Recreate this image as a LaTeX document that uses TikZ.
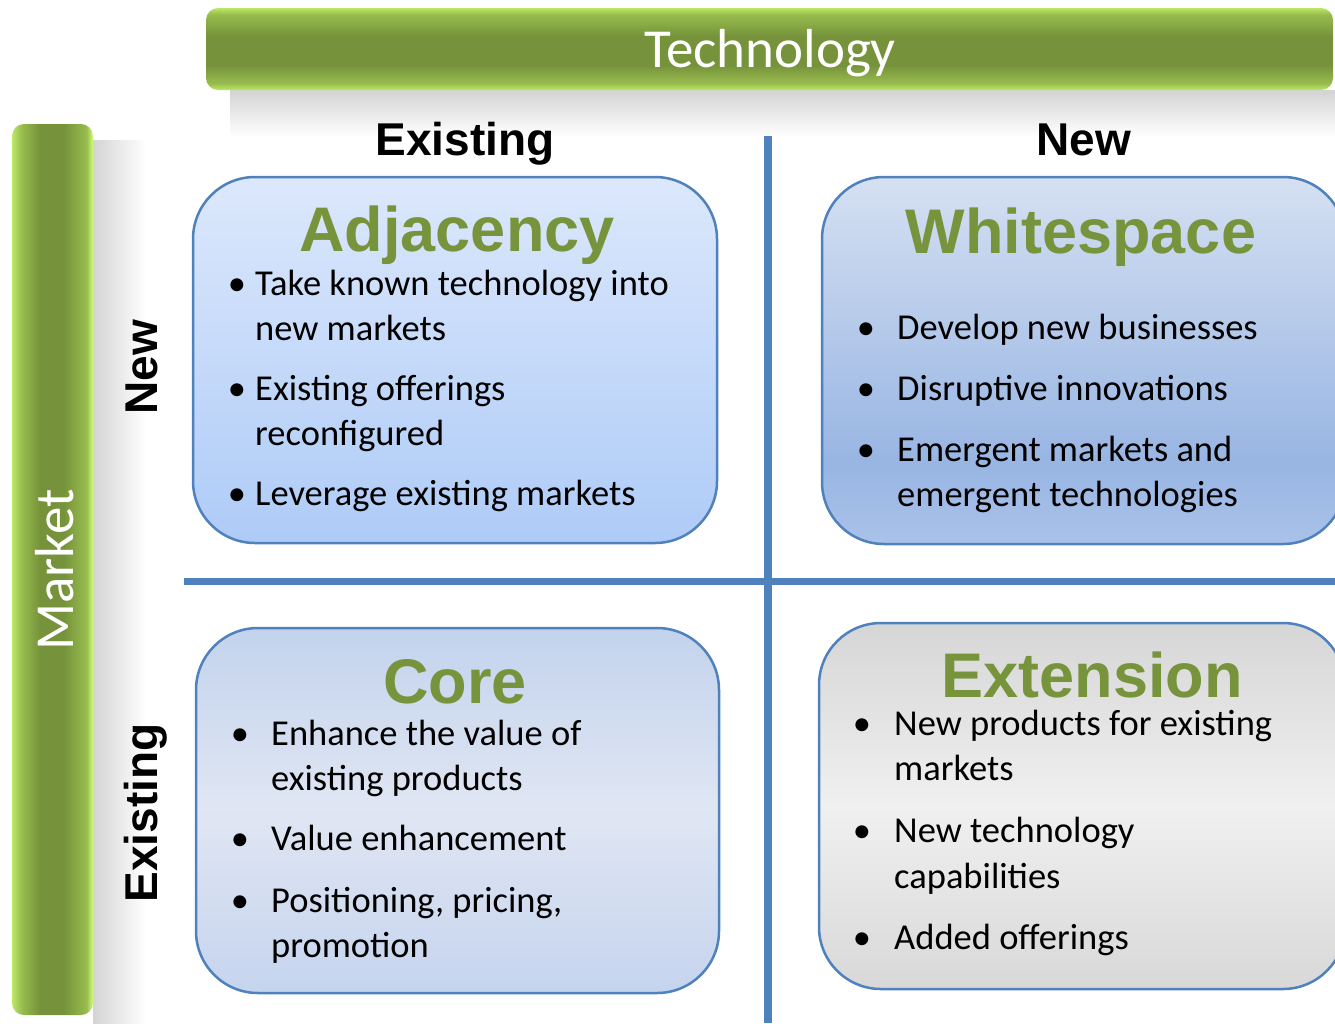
\documentclass[tikz,border=0pt]{standalone}
\usepackage{fontspec}
\setmainfont{Carlito}
\newfontfamily\headfont{Liberation Sans}
\definecolor{lineblue}{HTML}{4F81BD}
\definecolor{titlegreen}{HTML}{77933C}
\definecolor{bardark}{HTML}{76933B}
\definecolor{barmid}{HTML}{98BC4E}
\definecolor{barlight}{HTML}{BCE866}
\definecolor{barlightb}{HTML}{D3FF78}
\definecolor{adjtop}{HTML}{DCE8FC}
\definecolor{adjbot}{HTML}{AECBF7}
\definecolor{wstop}{HTML}{D5E0F2}
\definecolor{wsmid}{HTML}{98B5E3}
\definecolor{wsbot}{HTML}{AAC2E9}
\definecolor{cotop}{HTML}{C3D3ED}
\definecolor{comid}{HTML}{E0E6F3}
\definecolor{cobot}{HTML}{C5D4EE}
\definecolor{extop}{HTML}{D6D6D6}
\definecolor{exmid}{HTML}{F0F0F0}
\definecolor{exbot}{HTML}{D8D8D8}
\pgfdeclareverticalshading{barv}{100bp}{color(0bp)=(barlight); color(25bp)=(barlight); color(29bp)=(barmid); color(40bp)=(bardark); color(58bp)=(bardark); color(71bp)=(barmid); color(75bp)=(barlight); color(100bp)=(barlight)}
\pgfdeclarehorizontalshading{barh}{100bp}{color(0bp)=(barlight); color(25bp)=(barlight); color(31bp)=(barmid); color(42bp)=(bardark); color(57bp)=(bardark); color(71bp)=(barmid); color(75bp)=(barlightb); color(100bp)=(barlightb)}
\pgfdeclareverticalshading{adjsh}{100bp}{color(0bp)=(adjbot); color(25bp)=(adjbot); color(75bp)=(adjtop); color(100bp)=(adjtop)}
\pgfdeclareverticalshading{wssh}{100bp}{color(0bp)=(wsbot); color(25bp)=(wsbot); color(36bp)=(wsmid); color(75bp)=(wstop); color(100bp)=(wstop)}
\pgfdeclareverticalshading{cosh}{100bp}{color(0bp)=(cobot); color(25bp)=(cobot); color(50bp)=(comid); color(75bp)=(cotop); color(100bp)=(cotop)}
\pgfdeclareverticalshading{exsh}{100bp}{color(0bp)=(exbot); color(25bp)=(exbot); color(50bp)=(exmid); color(75bp)=(extop); color(100bp)=(extop)}
\tikzset{
  quadbox/.style={draw=lineblue, line width=2.5pt, rounded corners=62pt, inner sep=0pt, shade},
  greenbar/.style={rounded corners=12pt, inner sep=0pt, shade},
  divider/.style={draw=lineblue, line width=7.5pt},
  boxtitle/.style={font=\headfont\bfseries\fontsize{63}{70}\selectfont, text=titlegreen, anchor=base, inner sep=0pt},
  axishead/.style={font=\headfont\bfseries\fontsize{46}{50}\selectfont, anchor=base, inner sep=0pt},
  itemtxt/.style={font=\fontsize{36.5}{45}\selectfont, anchor=base west, inner sep=0pt},
  bultxt/.style={font=\fontsize{36.5}{45}\selectfont, anchor=base, inner sep=0pt},
  bartxt/.style={font=\fontsize{55}{60}\selectfont, text=white, anchor=base, inner sep=0pt}
}
\newcommand\bitem[5]{\node[bultxt] (#1b) at (#2,#4) {•};\node[itemtxt] (#1) at (#3,#4) {#5};}
\newcommand\citem[4]{\node[itemtxt] (#1) at (#2,#3) {#4};}
\begin{document}
\begin{tikzpicture}[x=1pt,y=-1pt]
\useasboundingbox (0,0) rectangle (1335,1023);
\fill[white] (0,0) rectangle (1335,1023);
% shadows
\shade[top color=black!17, bottom color=white] (230,90) rectangle (1335,137);
\shade[left color=black!17, right color=white] (93,140) rectangle (146,1023);
% green bars
\node[greenbar, shading=barv, minimum width=1127pt, minimum height=82pt] (techbar) at (769.5,49) {};
\node[greenbar, shading=barh, minimum width=81pt, minimum height=891pt] (marketbar) at (52.5,569.5) {};
\node[bartxt] (tech) at (770,67) {Technology};
\node[bartxt, rotate=90] (market) at (73,570) {Market};
% axis headings
\node[axishead] (hexist) at (465,155) {Existing};
\node[axishead] (hnew) at (1084,155) {New};
\node[axishead, rotate=90] (vnew) at (157,367) {New};
\node[axishead, rotate=90] (vexist) at (157,813) {Existing};
% dividers
\coordinate (vtop) at (768,136);
\coordinate (vbot) at (768,1023);
\coordinate (hleft) at (184,581.5);
\coordinate (hright) at (1335,581.5);
\draw[divider] (vtop) -- (vbot);
\draw[divider] (hleft) -- (hright);
% boxes
\node[quadbox, shading=adjsh, minimum width=524pt, minimum height=366pt] (adj) at (455,360) {};
\node[quadbox, shading=wssh, minimum width=523pt, minimum height=367pt] (ws) at (1083.5,360.5) {};
\node[quadbox, shading=cosh, minimum width=523pt, minimum height=365pt] (core) at (457.5,810.5) {};
\node[quadbox, shading=exsh, minimum width=526pt, minimum height=366pt] (ext) at (1082,806) {};
% Adjacency
\node[boxtitle] (adjt) at (457,251) {Adjacency};
\bitem{a1}{237}{255}{295}{Take known technology into}
\citem{a1c}{255}{340}{new markets}
\bitem{a2}{237}{255}{400}{Existing offerings}
\citem{a2c}{255}{445}{reconfigured}
\bitem{a3}{237}{255}{505}{Leverage existing markets}
% Whitespace
\node[boxtitle] (wst) at (1081,253) {Whitespace};
\bitem{w1}{866}{897}{339}{Develop new businesses}
\bitem{w2}{866}{897}{400}{Disruptive innovations}
\bitem{w3}{866}{897}{461}{Emergent markets and}
\citem{w3c}{897}{506}{emergent technologies}
% Core
\node[boxtitle] (cot) at (455,703) {Core};
\bitem{c1}{240}{271}{745}{Enhance the value of}
\citem{c1c}{271}{790}{existing products}
\bitem{c2}{240}{271}{850}{Value enhancement}
\bitem{c3}{240}{271}{912}{Positioning, pricing,}
\citem{c3c}{271}{957}{promotion}
% Extension
\node[boxtitle] (extt) at (1092,697) {Extension};
\bitem{e1}{862}{894}{735}{New products for existing}
\citem{e1c}{894}{780}{markets}
\bitem{e2}{862}{894}{842}{New technology}
\citem{e2c}{894}{888}{capabilities}
\bitem{e3}{862}{894}{949}{Added offerings}
\end{tikzpicture}
\end{document}
